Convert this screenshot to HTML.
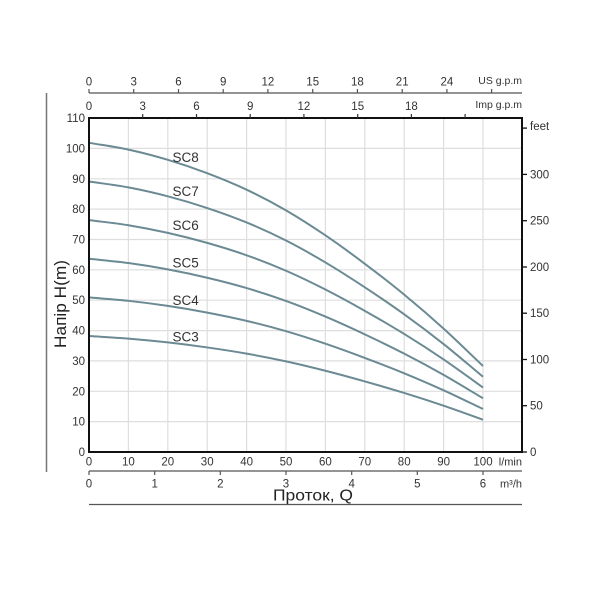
<!DOCTYPE html>
<html>
<head>
<meta charset="utf-8">
<style>
  html,body{margin:0;padding:0;background:#fff;}
  svg{display:block;}
  text{font-family:"Liberation Sans","DejaVu Sans",sans-serif;fill:#333;}
</style>
</head>
<body>
<svg width="600" height="600" viewBox="0 0 600 600" xmlns="http://www.w3.org/2000/svg">
  <rect width="600" height="600" fill="#fff"/>

  <!-- grid -->
  <g stroke="#dedede" stroke-width="1.2">
    <line x1="128.4" y1="118" x2="128.4" y2="452"/>
    <line x1="167.8" y1="118" x2="167.8" y2="452"/>
    <line x1="207.2" y1="118" x2="207.2" y2="452"/>
    <line x1="246.6" y1="118" x2="246.6" y2="452"/>
    <line x1="286" y1="118" x2="286" y2="452"/>
    <line x1="325.4" y1="118" x2="325.4" y2="452"/>
    <line x1="364.8" y1="118" x2="364.8" y2="452"/>
    <line x1="404.2" y1="118" x2="404.2" y2="452"/>
    <line x1="443.6" y1="118" x2="443.6" y2="452"/>
    <line x1="483" y1="118" x2="483" y2="452"/>
    <line x1="89" y1="421.6" x2="522" y2="421.6"/>
    <line x1="89" y1="391.3" x2="522" y2="391.3"/>
    <line x1="89" y1="360.9" x2="522" y2="360.9"/>
    <line x1="89" y1="330.6" x2="522" y2="330.6"/>
    <line x1="89" y1="300.2" x2="522" y2="300.2"/>
    <line x1="89" y1="269.8" x2="522" y2="269.8"/>
    <line x1="89" y1="239.5" x2="522" y2="239.5"/>
    <line x1="89" y1="209.1" x2="522" y2="209.1"/>
    <line x1="89" y1="178.8" x2="522" y2="178.8"/>
    <line x1="89" y1="148.4" x2="522" y2="148.4"/>
  </g>

  <!-- curves (per-stage curve scaled by stage count) -->
  <g fill="none" stroke="#6b8a94" stroke-width="2">
    <path vector-effect="non-scaling-stroke" transform="translate(0,452) scale(1,-24.288)" d="M89,12.73 C102.13,12.637 115.27,12.567 128.4,12.45 C141.53,12.333 154.67,12.192 167.8,12.03 C180.93,11.868 194.07,11.685 207.2,11.48 C220.33,11.275 233.47,11.055 246.6,10.8 C259.73,10.545 272.87,10.263 286,9.95 C299.13,9.637 312.27,9.287 325.4,8.92 C338.53,8.553 351.67,8.157 364.8,7.75 C377.93,7.343 391.07,6.925 404.2,6.48 C417.33,6.035 430.47,5.57 443.6,5.08 C456.73,4.59 469.87,4.053 483,3.54"/>
    <path vector-effect="non-scaling-stroke" transform="translate(0,452) scale(1,-21.252)" d="M89,12.73 C102.13,12.637 115.27,12.567 128.4,12.45 C141.53,12.333 154.67,12.192 167.8,12.03 C180.93,11.868 194.07,11.685 207.2,11.48 C220.33,11.275 233.47,11.055 246.6,10.8 C259.73,10.545 272.87,10.263 286,9.95 C299.13,9.637 312.27,9.287 325.4,8.92 C338.53,8.553 351.67,8.157 364.8,7.75 C377.93,7.343 391.07,6.925 404.2,6.48 C417.33,6.035 430.47,5.57 443.6,5.08 C456.73,4.59 469.87,4.053 483,3.54"/>
    <path vector-effect="non-scaling-stroke" transform="translate(0,452) scale(1,-18.216)" d="M89,12.73 C102.13,12.637 115.27,12.567 128.4,12.45 C141.53,12.333 154.67,12.192 167.8,12.03 C180.93,11.868 194.07,11.685 207.2,11.48 C220.33,11.275 233.47,11.055 246.6,10.8 C259.73,10.545 272.87,10.263 286,9.95 C299.13,9.637 312.27,9.287 325.4,8.92 C338.53,8.553 351.67,8.157 364.8,7.75 C377.93,7.343 391.07,6.925 404.2,6.48 C417.33,6.035 430.47,5.57 443.6,5.08 C456.73,4.59 469.87,4.053 483,3.54"/>
    <path vector-effect="non-scaling-stroke" transform="translate(0,452) scale(1,-15.18)" d="M89,12.73 C102.13,12.637 115.27,12.567 128.4,12.45 C141.53,12.333 154.67,12.192 167.8,12.03 C180.93,11.868 194.07,11.685 207.2,11.48 C220.33,11.275 233.47,11.055 246.6,10.8 C259.73,10.545 272.87,10.263 286,9.95 C299.13,9.637 312.27,9.287 325.4,8.92 C338.53,8.553 351.67,8.157 364.8,7.75 C377.93,7.343 391.07,6.925 404.2,6.48 C417.33,6.035 430.47,5.57 443.6,5.08 C456.73,4.59 469.87,4.053 483,3.54"/>
    <path vector-effect="non-scaling-stroke" transform="translate(0,452) scale(1,-12.144)" d="M89,12.73 C102.13,12.637 115.27,12.567 128.4,12.45 C141.53,12.333 154.67,12.192 167.8,12.03 C180.93,11.868 194.07,11.685 207.2,11.48 C220.33,11.275 233.47,11.055 246.6,10.8 C259.73,10.545 272.87,10.263 286,9.95 C299.13,9.637 312.27,9.287 325.4,8.92 C338.53,8.553 351.67,8.157 364.8,7.75 C377.93,7.343 391.07,6.925 404.2,6.48 C417.33,6.035 430.47,5.57 443.6,5.08 C456.73,4.59 469.87,4.053 483,3.54"/>
    <path vector-effect="non-scaling-stroke" transform="translate(0,452) scale(1,-9.108)" d="M89,12.73 C102.13,12.637 115.27,12.567 128.4,12.45 C141.53,12.333 154.67,12.192 167.8,12.03 C180.93,11.868 194.07,11.685 207.2,11.48 C220.33,11.275 233.47,11.055 246.6,10.8 C259.73,10.545 272.87,10.263 286,9.95 C299.13,9.637 312.27,9.287 325.4,8.92 C338.53,8.553 351.67,8.157 364.8,7.75 C377.93,7.343 391.07,6.925 404.2,6.48 C417.33,6.035 430.47,5.57 443.6,5.08 C456.73,4.59 469.87,4.053 483,3.54"/>
  </g>

  <!-- curve labels -->
  <g font-size="13.5" style="fill:#222">
    <text x="172.5" y="162">SC8</text>
    <text x="172.5" y="196">SC7</text>
    <text x="172.5" y="230">SC6</text>
    <text x="172.5" y="267.5">SC5</text>
    <text x="172.5" y="305">SC4</text>
    <text x="172.5" y="341.5">SC3</text>
  </g>

  <!-- plot border -->
  <rect x="89" y="118" width="433" height="334" fill="none" stroke="#111" stroke-width="2"/>

  <!-- left y labels -->
  <g font-size="11.5" text-anchor="end">
    <text x="85" y="456">0</text>
    <text x="85" y="425.6">10</text>
    <text x="85" y="395.3">20</text>
    <text x="85" y="364.9">30</text>
    <text x="85" y="334.6">40</text>
    <text x="85" y="304.2">50</text>
    <text x="85" y="273.8">60</text>
    <text x="85" y="243.5">70</text>
    <text x="85" y="213.1">80</text>
    <text x="85" y="182.8">90</text>
    <text x="85" y="152.4">100</text>
    <text x="85" y="122">110</text>
  </g>

  <!-- right feet axis -->
  <g stroke="#111" stroke-width="1.3">
    <line x1="522" y1="452" x2="527" y2="452"/>
    <line x1="522" y1="405.7" x2="527" y2="405.7"/>
    <line x1="522" y1="359.5" x2="527" y2="359.5"/>
    <line x1="522" y1="313.2" x2="527" y2="313.2"/>
    <line x1="522" y1="267" x2="527" y2="267"/>
    <line x1="522" y1="220.7" x2="527" y2="220.7"/>
    <line x1="522" y1="174.4" x2="527" y2="174.4"/>
    <line x1="522" y1="128.1" x2="527" y2="128.1"/>
  </g>
  <g font-size="11.5">
    <text x="530" y="456">0</text>
    <text x="530" y="409.7">50</text>
    <text x="530" y="363.5">100</text>
    <text x="530" y="317.2">150</text>
    <text x="530" y="271">200</text>
    <text x="530" y="224.7">250</text>
    <text x="530" y="178.4">300</text>
    <text x="530" y="130">feet</text>
  </g>

  <!-- top US g.p.m axis -->
  <g stroke="#555" stroke-width="1.2">
    <line x1="89" y1="93" x2="522" y2="93"/>
    <line x1="89" y1="89" x2="89" y2="93"/>
    <line x1="133.7" y1="89" x2="133.7" y2="93"/>
    <line x1="178.5" y1="89" x2="178.5" y2="93"/>
    <line x1="223.2" y1="89" x2="223.2" y2="93"/>
    <line x1="267.9" y1="89" x2="267.9" y2="93"/>
    <line x1="312.7" y1="89" x2="312.7" y2="93"/>
    <line x1="357.4" y1="89" x2="357.4" y2="93"/>
    <line x1="402.2" y1="89" x2="402.2" y2="93"/>
    <line x1="446.9" y1="89" x2="446.9" y2="93"/>
    <line x1="491.6" y1="89" x2="491.6" y2="93"/>
  </g>
  <g font-size="11.5" text-anchor="middle">
    <text x="89" y="85.5">0</text>
    <text x="133.7" y="85.5">3</text>
    <text x="178.5" y="85.5">6</text>
    <text x="223.2" y="85.5">9</text>
    <text x="267.9" y="85.5">12</text>
    <text x="312.7" y="85.5">15</text>
    <text x="357.4" y="85.5">18</text>
    <text x="402.2" y="85.5">21</text>
    <text x="446.9" y="85.5">24</text>
  </g>
  <text x="522" y="84" font-size="10.5" text-anchor="end">US g.p.m</text>

  <!-- Imp g.p.m axis -->
  <g stroke="#333" stroke-width="1.2">
    <line x1="142.7" y1="114" x2="142.7" y2="118"/>
    <line x1="196.5" y1="114" x2="196.5" y2="118"/>
    <line x1="250.2" y1="114" x2="250.2" y2="118"/>
    <line x1="303.9" y1="114" x2="303.9" y2="118"/>
    <line x1="357.7" y1="114" x2="357.7" y2="118"/>
    <line x1="411.4" y1="114" x2="411.4" y2="118"/>
    <line x1="465.1" y1="114" x2="465.1" y2="118"/>
  </g>
  <g font-size="11.5" text-anchor="middle">
    <text x="89" y="110">0</text>
    <text x="142.7" y="110">3</text>
    <text x="196.5" y="110">6</text>
    <text x="250.2" y="110">9</text>
    <text x="303.9" y="110">12</text>
    <text x="357.7" y="110">15</text>
    <text x="411.4" y="110">18</text>
  </g>
  <text x="522" y="108" font-size="10.5" text-anchor="end">Imp g.p.m</text>

  <!-- bottom l/min labels -->
  <g font-size="11.5" text-anchor="middle">
    <text x="89" y="465.5">0</text>
    <text x="128.4" y="465.5">10</text>
    <text x="167.8" y="465.5">20</text>
    <text x="207.2" y="465.5">30</text>
    <text x="246.6" y="465.5">40</text>
    <text x="286" y="465.5">50</text>
    <text x="325.4" y="465.5">60</text>
    <text x="364.8" y="465.5">70</text>
    <text x="404.2" y="465.5">80</text>
    <text x="443.6" y="465.5">90</text>
    <text x="483" y="465.5">100</text>
  </g>
  <text x="522" y="465.5" font-size="11" text-anchor="end">l/min</text>

  <!-- m3/h axis -->
  <g stroke="#555" stroke-width="1.2">
    <line x1="89" y1="471" x2="522" y2="471"/>
    <line x1="89" y1="471" x2="89" y2="475"/>
    <line x1="154.7" y1="471" x2="154.7" y2="475"/>
    <line x1="220.3" y1="471" x2="220.3" y2="475"/>
    <line x1="286" y1="471" x2="286" y2="475"/>
    <line x1="351.7" y1="471" x2="351.7" y2="475"/>
    <line x1="417.3" y1="471" x2="417.3" y2="475"/>
    <line x1="483" y1="471" x2="483" y2="475"/>
  </g>
  <g font-size="11.5" text-anchor="middle">
    <text x="89" y="487.5">0</text>
    <text x="154.7" y="487.5">1</text>
    <text x="220.3" y="487.5">2</text>
    <text x="286" y="487.5">3</text>
    <text x="351.7" y="487.5">4</text>
    <text x="417.3" y="487.5">5</text>
    <text x="483" y="487.5">6</text>
  </g>
  <text x="522" y="487.5" font-size="11" text-anchor="end">m³/h</text>

  <!-- x title -->
  <text x="273" y="500.5" font-size="16" textLength="80" lengthAdjust="spacingAndGlyphs" style="fill:#222">Проток, Q</text>
  <line x1="89" y1="504.5" x2="522" y2="504.5" stroke="#555" stroke-width="1.3"/>

  <!-- left bar and y title -->
  <line x1="46.5" y1="93" x2="46.5" y2="472" stroke="#777" stroke-width="1.5"/>
  <text transform="translate(66,348) rotate(-90)" font-size="16.5" textLength="88" lengthAdjust="spacingAndGlyphs" style="fill:#222">Напір H(m)</text>
</svg>
</body>
</html>
